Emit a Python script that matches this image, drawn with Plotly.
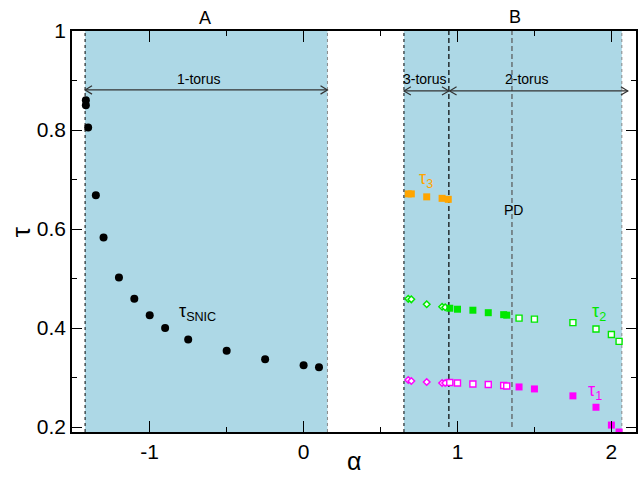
import plotly.graph_objects as go

# ---------------- data ----------------
snic_alpha = [-1.415, -1.415, -1.40, -1.35, -1.30, -1.20, -1.10, -1.00, -0.90, -0.75, -0.50, -0.25, 0.00, 0.10]
snic_tau = [0.860, 0.850, 0.805, 0.668, 0.583, 0.502, 0.459, 0.426, 0.400, 0.377, 0.354, 0.337, 0.325, 0.321]

tau3_alpha = [0.68, 0.70, 0.80, 0.90, 0.94]
tau3_tau = [0.671, 0.671, 0.665, 0.662, 0.660]

# tau2 (green)
tau2_diam_alpha = [0.68, 0.70, 0.80, 0.90, 0.92]
tau2_diam_tau = [0.459, 0.458, 0.448, 0.443, 0.442]
tau2_fill_alpha = [0.95, 1.00, 1.10, 1.20, 1.30, 1.32]
tau2_fill_tau = [0.440, 0.438, 0.436, 0.431, 0.427, 0.426]
tau2_open_alpha = [1.40, 1.50, 1.75, 1.90, 2.00, 2.05]
tau2_open_tau = [0.420, 0.418, 0.411, 0.398, 0.387, 0.373]

# tau1 (magenta)
tau1_diam_alpha = [0.68, 0.70, 0.80, 0.90, 0.92]
tau1_diam_tau = [0.295, 0.293, 0.291, 0.289, 0.289]
tau1_open_alpha = [0.95, 1.00, 1.10, 1.20, 1.30, 1.32]
tau1_open_tau = [0.290, 0.289, 0.287, 0.286, 0.284, 0.283]
tau1_fill_alpha = [1.40, 1.50, 1.75, 1.90, 2.00, 2.05]
tau1_fill_tau = [0.281, 0.277, 0.263, 0.240, 0.204, 0.190]

region_A = [-1.42, 0.155]
region_B = [0.652, 2.068]
dashed_alpha = [0.944, 1.354]

x_ticks = [-1, 0, 1, 2]
x_tick_text = ["-1", "0", "1", "2"]
y_ticks = [0.2, 0.4, 0.6, 0.8, 1.0]
y_tick_text = ["0.2", "0.4", "0.6", "0.8", "1"]

X_RANGE = [-1.505, 2.16]
Y_RANGE = [0.19, 1.0]

ORANGE = "#FFA500"
GREEN = "#00E800"
MAGENTA = "#FF00FF"
SHADE = "#ADD8E6"
FONT = "Liberation Sans, Arial, sans-serif"

fig = go.Figure()

def add(xs, ys, symbol, size, fill, line_color, lw=0):
    fig.add_trace(go.Scatter(
        x=xs, y=ys, mode="markers", showlegend=False,
        marker=dict(symbol=symbol, size=size, color=fill,
                    line=dict(color=line_color, width=lw))))

add(snic_alpha, snic_tau, "circle", 8, "black", "black")
add(tau3_alpha, tau3_tau, "square", 7, ORANGE, ORANGE)
add(tau2_diam_alpha, tau2_diam_tau, "diamond", 5, "white", GREEN, 1.5)
add(tau2_fill_alpha, tau2_fill_tau, "square", 7, GREEN, GREEN)
add(tau2_open_alpha, tau2_open_tau, "square", 6, "white", GREEN, 1.4)
add(tau1_diam_alpha, tau1_diam_tau, "diamond", 5, "white", MAGENTA, 1.5)
add(tau1_open_alpha, tau1_open_tau, "square", 6, "white", MAGENTA, 1.4)
add(tau1_fill_alpha, tau1_fill_tau, "square", 7, MAGENTA, MAGENTA)

shapes = []
# shaded regions
for x0, x1 in (region_A, region_B):
    shapes.append(dict(type="rect", xref="x", yref="paper", x0=x0, x1=x1, y0=0, y1=1,
                       fillcolor=SHADE, line=dict(width=0), layer="below"))
    shapes.append(dict(type="line", xref="x", yref="paper", x0=x0, x1=x0, y0=0, y1=1,
                       line=dict(color="black", width=1, dash="dot"), layer="below"))
    shapes.append(dict(type="line", xref="x", yref="paper", x0=x1, x1=x1, y0=0, y1=1,
                       line=dict(color="#888888", width=1, dash="dot"), layer="below"))
# dashed lines
for xv, col in zip(dashed_alpha, ["black", "#555555"]):
    shapes.append(dict(type="line", xref="x", yref="y", x0=xv, x1=xv, y0=0.2, y1=1.0,
                       line=dict(color=col, width=1.2, dash="5px,3px"), layer="below"))

# double arrows with open chevron heads
def double_arrow(xa, xb, yv):
    dx, dy = 0.045, 0.0085
    col = "#333333"
    shapes.append(dict(type="line", xref="x", yref="y", x0=xa, x1=xb, y0=yv, y1=yv,
                       line=dict(color=col, width=1.2)))
    shapes.append(dict(type="path", xref="x", yref="y",
                       path=f"M {xa+dx},{yv+dy} L {xa},{yv} L {xa+dx},{yv-dy}",
                       line=dict(color=col, width=1.2)))
    shapes.append(dict(type="path", xref="x", yref="y",
                       path=f"M {xb-dx},{yv+dy} L {xb},{yv} L {xb-dx},{yv-dy}",
                       line=dict(color=col, width=1.2)))

double_arrow(region_A[0], region_A[1], 0.881)
double_arrow(region_B[0], dashed_alpha[0], 0.879)
double_arrow(dashed_alpha[0] + 0.005, 2.107, 0.879)

annotations = []
def txt(x, y, s, size=14, color="black", yref="y"):
    annotations.append(dict(x=x, y=y, xref="x", yref=yref, text=s, showarrow=False,
                            font=dict(family=FONT, size=size, color=color),
                            xanchor="center", yanchor="middle"))

txt(-0.644, 1.032, "A", 18, yref="paper")
txt(1.375, 1.035, "B", 18, yref="paper")
txt(-0.683, 0.904, "1-torus", 14)
txt(0.791, 0.904, "3-torus", 14)
txt(1.451, 0.904, "2-torus", 14)
txt(1.363, 0.638, "PD", 14)
txt(-0.689, 0.432, "τ<sub>SNIC</sub>", 18)
txt(0.797, 0.700, "τ<sub>3</sub>", 18, ORANGE)
txt(1.922, 0.432, "τ<sub>2</sub>", 18, GREEN)
txt(1.896, 0.272, "τ<sub>1</sub>", 18, MAGENTA)

# axis titles
annotations.append(dict(x=(20.5 - 72) / 566, y=0.5, xref="paper", yref="paper", text="τ",
                        showarrow=False, textangle=-90,
                        font=dict(family=FONT, size=26, color="black"),
                        xanchor="center", yanchor="middle"))
annotations.append(dict(x=0.5, y=-0.113, xref="paper", yref="paper", text="α",
                        showarrow=False, font=dict(family=FONT, size=25, color="black"),
                        xanchor="center", yanchor="bottom"))

axis_common = dict(showgrid=False, zeroline=False, showline=True, linecolor="black",
                   linewidth=1.5, mirror="ticks", ticks="inside", tickcolor="black",
                   tickwidth=1.2, tickfont=dict(family=FONT, size=21, color="black"))

fig.update_layout(
    width=638, height=479,
    margin=dict(l=72, r=0, t=31, b=47),
    paper_bgcolor="white", plot_bgcolor="white",
    shapes=shapes, annotations=annotations,
    xaxis=dict(range=X_RANGE, tickvals=x_ticks, ticktext=x_tick_text, ticklen=11,
               minor=dict(dtick=0.5, tick0=0, ticks="inside", ticklen=5, tickcolor="black"),
               **axis_common),
    yaxis=dict(range=Y_RANGE, tickvals=y_ticks, ticktext=y_tick_text, ticklen=10,
               minor=dict(dtick=0.1, tick0=0, ticks="inside", ticklen=5, tickcolor="black"),
               **axis_common),
)

fig.write_html("out.html")
